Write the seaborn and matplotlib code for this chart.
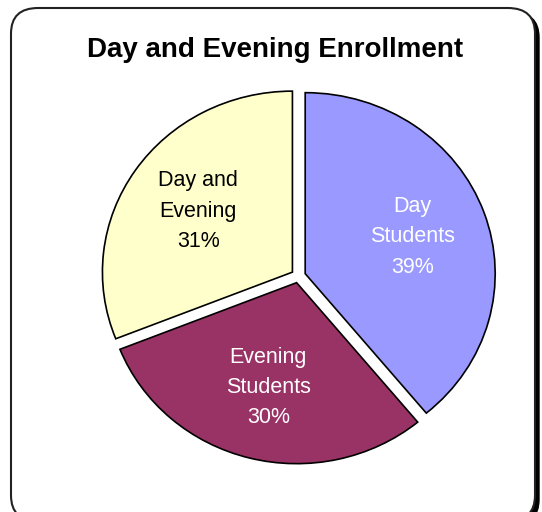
import matplotlib.pyplot as plt
import seaborn as sns
from matplotlib.patches import FancyBboxPatch

sns.set_style("white")
plt.rcParams["font.family"] = ["Liberation Sans", "DejaVu Sans"]

# data
labels = ["Day\nStudents", "Evening\nStudents", "Day and\nEvening"]
shares = [39, 30, 31]
colors = sns.color_palette(["#9999FF", "#993366", "#FFFFCC"])
text_colors = ["white", "white", "black"]

W, H = 542, 512
fig = plt.figure(figsize=(W / 100, H / 100), dpi=100)

# rounded frame with dark shadow on the right
box = dict(boxstyle="round,pad=0,rounding_size=0.05", transform=fig.transFigure)
shadow = FancyBboxPatch((15 / W, -13 / H), 524 / W, 513 / H,
                        facecolor="black", edgecolor="black", zorder=-2, **box)
frame = FancyBboxPatch((11 / W, -9 / H), 524 / W, 513 / H,
                       facecolor="white", edgecolor="#222222",
                       linewidth=1.5, zorder=-1, **box)
fig.patches.extend([shadow, frame])

fig.text(275 / W, 1 - 50 / H, "Day and Evening Enrollment",
         ha="center", va="center", fontsize=20, fontweight="bold",
         color="black", zorder=3)

# pie axes: centre ~ (298, 276) px, slightly wider than tall
rx, ry = 190, 181
cx, cy = 298.4, H - 276
hx, hy = 1.2 * rx, 1.2 * ry
ax = fig.add_axes([(cx - hx) / W, (cy - hy) / H, 2 * hx / W, 2 * hy / H])
ax.set_zorder(5)
ax.patch.set_alpha(0)

wedges, texts = ax.pie(
    shares,
    labels=[f"{l}\n{s}%" for l, s in zip(labels, shares)],
    colors=colors,
    startangle=90,
    counterclock=False,
    explode=[0.038] * len(shares),
    labeldistance=0.6,
    wedgeprops=dict(edgecolor="black", linewidth=1.2),
    frame=False,
)
for t, c in zip(texts, text_colors):
    t.set_ha("center")
    t.set_va("center")
    t.set_color(c)
    t.set_fontsize(15.5)
    t.set_linespacing(1.57)
ax.set_aspect("auto")
ax.set_xlim(-1.2, 1.2)
ax.set_ylim(-1.2, 1.2)
ax.axis("off")

fig.savefig("out.png", dpi=100)
